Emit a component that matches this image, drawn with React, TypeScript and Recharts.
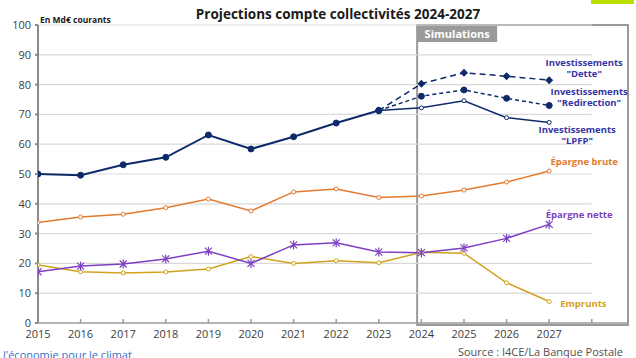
import { LineChart, Line, XAxis, YAxis, ReferenceLine, ReferenceArea, LabelList } from "recharts"

const years = [2015, 2016, 2017, 2018, 2019, 2020, 2021, 2022, 2023, 2024, 2025, 2026, 2027]
const investissements = [50, 49.6, 53.1, 55.6, 63.1, 58.4, 62.5, 67.1, 71.3, null, null, null, null]
const investLpfp = [null, null, null, null, null, null, null, null, 71.3, 72.2, 74.6, 68.9, 67.3]
const investRedirection = [null, null, null, null, null, null, null, null, 71.3, 76.1, 78.2, 75.4, 73.0]
const investDette = [null, null, null, null, null, null, null, null, 71.3, 80.3, 84.0, 82.8, 81.5]
const epargneBrute = [33.7, 35.6, 36.5, 38.7, 41.6, 37.6, 44.0, 45.0, 42.1, 42.6, 44.6, 47.3, 51.0]
const epargneNette = [17.2, 19.1, 19.8, 21.5, 24.1, 20.0, 26.2, 26.9, 23.8, 23.6, 25.2, 28.4, 33.1]
const emprunts = [19.5, 17.2, 16.8, 17.1, 18.1, 22.3, 20.0, 20.9, 20.2, 23.7, 23.4, 13.5, 7.2]
const yTicks = [0, 10, 20, 30, 40, 50, 60, 70, 80, 90, 100]
const xTicks = [...years, 2028]

const NAVY = "#0f2a6b"
const LABEL_BLUE = "#3535a5"
const ORANGE = "#e27a30"
const PURPLE = "#7d3fc2"
const GOLD = "#d3a21c"
const FONT = "'Open Sans', sans-serif"

const data = years.map((year, i) => ({
  year,
  invest: investissements[i],
  lpfp: investLpfp[i],
  redirection: investRedirection[i],
  dette: investDette[i],
  brute: epargneBrute[i],
  nette: epargneNette[i],
  emprunts: emprunts[i],
}))

const lastIndex = years.length - 1

const FilledDot = (color: string, r: number) => (props: any) => {
  const { cx, cy, index, value } = props
  if (value == null || cx == null) return <g key={index} />
  return <circle key={index} cx={cx} cy={cy} r={r} fill={color} stroke={color} />
}

const OpenDot = (color: string) => (props: any) => {
  const { cx, cy, index, value } = props
  if (value == null || cx == null) return <g key={index} />
  return <circle key={index} cx={cx} cy={cy} r={2} fill="#fff" stroke={color} strokeWidth={1} />
}

const DiamondDot = (props: any) => {
  const { cx, cy, index, value } = props
  if (value == null || cx == null) return <g key={index} />
  const s = 4
  return <polygon key={index} points={`${cx},${cy - s} ${cx + s},${cy} ${cx},${cy + s} ${cx - s},${cy}`} fill={NAVY} />
}

const StarDot = (props: any) => {
  const { cx, cy, index, value } = props
  if (value == null || cx == null) return <g key={index} />
  const s = 3.5
  return (
    <g key={index} stroke={PURPLE} strokeWidth={1.2}>
      <line x1={cx - s} y1={cy - s} x2={cx + s} y2={cy + s} />
      <line x1={cx - s} y1={cy + s} x2={cx + s} y2={cy - s} />
      <line x1={cx} y1={cy - s - 1} x2={cx} y2={cy + s + 1} />
    </g>
  )
}

// texte en fin de courbe (dernier point)
const endLabel = (lines: string[], color: string, dx: number, dy: number, anchor = "middle") => (props: any) => {
  const { x, y, index } = props
  if (index !== lastIndex || x == null) return null
  return (
    <g>
      {lines.map((l, i) => (
        <text key={i} x={x + dx} y={y + dy + i * 11} fill={color} fontSize={9.5} fontWeight={700} fontFamily={FONT} textAnchor={anchor}>
          {l}
        </text>
      ))}
    </g>
  )
}

const SimulationBox = (props: any) => {
  const { x, y, width, height } = props
  return (
    <g>
      <rect x={x} y={y} width={width} height={height + 2} fill="none" stroke="#9a9a9a" strokeWidth={2} />
      <rect x={x} y={y} width={80} height={17} fill="#9a9a9a" />
      <text x={x + 40} y={y + 12.5} fill="#fff" fontSize={11} fontWeight={700} fontFamily={FONT} textAnchor="middle">
        Simulations
      </text>
    </g>
  )
}

export default function App() {
  return (
    <div style={{ position: "absolute", left: 0, top: 0, width: 636, height: 358, background: "#fff", overflow: "hidden", fontFamily: FONT }}>
      <div style={{ position: "absolute", left: 591, top: 0, width: 43, height: 4, background: "#b9e000" }} />
      <div style={{ position: "absolute", left: 0, top: 5, width: 676, textAlign: "center", fontSize: 13.5, fontWeight: 700, color: "#1a1a1a" }}>
        Projections compte collectivités 2024-2027
      </div>
      <div style={{ position: "absolute", left: 40, top: 14, fontSize: 8.5, fontWeight: 700, color: "#1a1a1a" }}>En Md€ courants</div>
      <LineChart width={636} height={358} data={data} margin={{ top: 25, right: 8, left: 0, bottom: 0 }}>
        {yTicks.slice(1).map((t) => (
          <ReferenceLine key={t} segment={[{ x: 2015, y: t }, { x: 2028, y: t }]} stroke="#d9d9d9" strokeWidth={1.2} />
        ))}
        <ReferenceArea x1={2023.9} x2={2028.85} y1={0} y2={100} shape={SimulationBox} ifOverflow="visible" />
        <XAxis
          dataKey="year"
          type="number"
          domain={[2015, 2028.85]}
          ticks={xTicks}
          interval={0}
          allowDataOverflow
          tickFormatter={(v) => (v === 2028 ? "" : String(v))}
          height={35}
          stroke="#9a9a9a"
          strokeWidth={1.5}
          tickSize={-4}
          tickMargin={11}
          tick={{ fill: "#404040", fontSize: 11, fontFamily: FONT }}
        />
        <YAxis
          domain={[0, 100]}
          ticks={yTicks}
          width={38}
          stroke="#8a8a8a"
          strokeWidth={2}
          tickSize={3}
          tickMargin={4}
          tick={{ fill: "#404040", fontSize: 11, fontFamily: FONT }}
        />
        <Line dataKey="emprunts" stroke={GOLD} strokeWidth={1.5} dot={OpenDot(GOLD)} isAnimationActive={false}>
          <LabelList content={endLabel(["Emprunts"], GOLD, 11, 5, "start")} />
        </Line>
        <Line dataKey="nette" stroke={PURPLE} strokeWidth={1.5} dot={StarDot} isAnimationActive={false}>
          <LabelList content={endLabel(["Épargne nette"], PURPLE, 30, -6)} />
        </Line>
        <Line dataKey="brute" stroke={ORANGE} strokeWidth={1.5} dot={OpenDot(ORANGE)} isAnimationActive={false}>
          <LabelList content={endLabel(["Épargne brute"], ORANGE, 35, -6)} />
        </Line>
        <Line dataKey="lpfp" stroke={NAVY} strokeWidth={1.5} dot={OpenDot(NAVY)} isAnimationActive={false}>
          <LabelList content={endLabel(["Investissements", "\"LPFP\""], LABEL_BLUE, 28, 11)} />
        </Line>
        <Line dataKey="redirection" stroke={NAVY} strokeWidth={1.5} strokeDasharray="4 3" dot={FilledDot(NAVY, 3)} isAnimationActive={false}>
          <LabelList content={endLabel(["Investissements", "\"Redirection\""], LABEL_BLUE, 40, -10)} />
        </Line>
        <Line dataKey="dette" stroke={NAVY} strokeWidth={1.5} strokeDasharray="6 4" dot={DiamondDot} isAnimationActive={false}>
          <LabelList content={endLabel(["Investissements", "\"Dette\""], LABEL_BLUE, 35, -14)} />
        </Line>
        <Line dataKey="invest" stroke={NAVY} strokeWidth={2} dot={FilledDot(NAVY, 3)} isAnimationActive={false} />
      </LineChart>
      <div style={{ position: "absolute", right: 13, top: 344, fontSize: 11, color: "#505050" }}>Source : I4CE/La Banque Postale</div>
      <div style={{ position: "absolute", left: 3, top: 347, fontSize: 11, color: "#3270c8" }}>l'économie pour le climat</div>
    </div>
  )
}
